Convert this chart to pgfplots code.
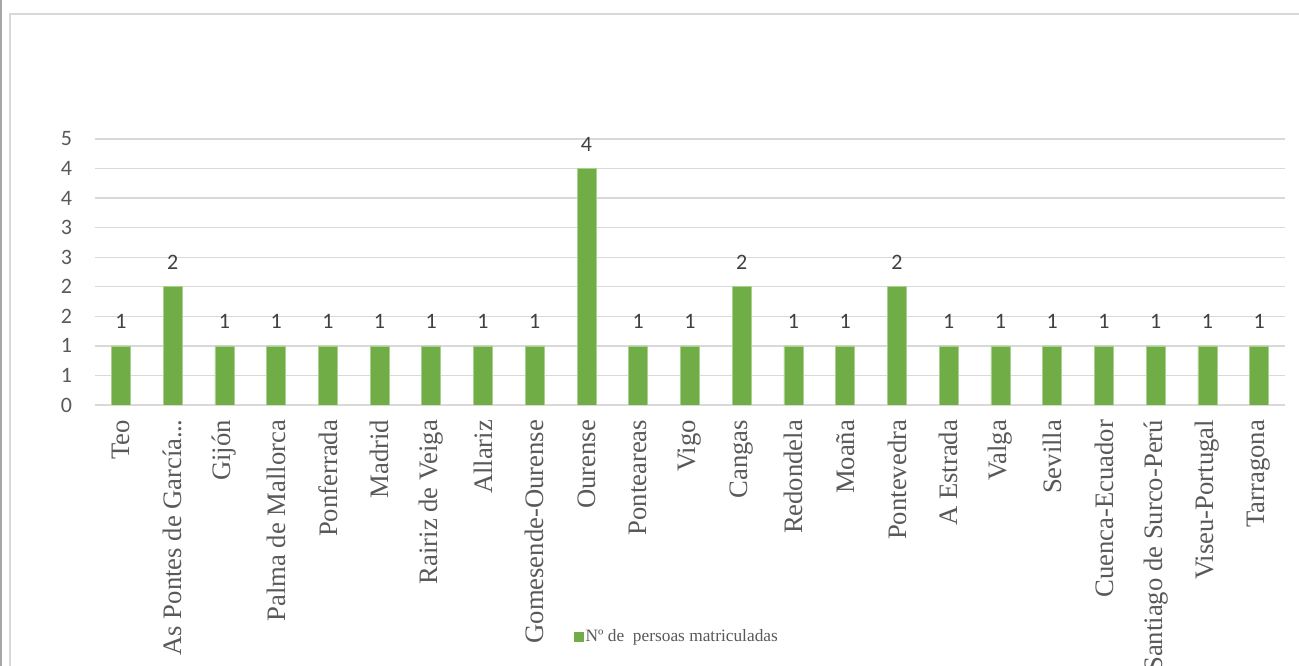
\documentclass[border=0pt]{standalone}
\usepackage{fontspec}
\setmainfont{Liberation Serif}
\newfontfamily\carlito{Carlito}
\usepackage{pgfplots}
\pgfplotsset{compat=1.18}

\definecolor{barGreen}{HTML}{70AD47}
\definecolor{barEdge}{HTML}{A9D18E}
\definecolor{gridGray}{HTML}{D9D9D9}
\definecolor{txtGray}{HTML}{595959}
\definecolor{lblGray}{HTML}{404040}
\definecolor{frameDark}{HTML}{A6A6A6}

\begin{document}
\begin{tikzpicture}
\useasboundingbox (-71.25pt,-195.75pt) rectangle (903pt,303.75pt);
\clip (-71.25pt,-195.75pt) rectangle (903pt,303.75pt);

% chart frame
\begin{scope}[shift={(-71.25pt,303.75pt)}, x=0.75pt, y=-0.75pt]
  \draw[frameDark, line width=1.5pt] (1,0) -- (1,670);
  \draw[gridGray, line width=1.5pt] (10,670) -- (10,14) -- (1305,14);
\end{scope}

\begin{axis}[
    scale only axis,
    width=892.5pt, height=199.5pt,
    ybar, bar width=14.25pt,
    xmin=-0.5, xmax=22.5, ymin=0, ymax=4.5,
    xtick=data,
    xticklabels={Teo, As Pontes de García.\kern-0.6pt.\kern-0.6pt., Gijón, Palma de Mallorca,
        Ponferrada, Madrid, Rairiz de Veiga, Allariz, Gomesende-Ourense,
        Ourense, Ponteareas, Vigo, Cangas, Redondela, Moaña, Pontevedra,
        A Estrada, Valga, Sevilla, Cuenca-Ecuador, Santiago de Surco-Perú,
        Viseu-Portugal, Tarragona},
    ytick={0,0.5,1,1.5,2,2.5,3,3.5,4,4.5},
    yticklabels={0,1,1,2,2,3,3,4,4,5},
    axis line style={draw=none},
    major tick length=0pt,
    ymajorgrids,
    grid style={gridGray, line width=1pt},
    /pgf/number format/assume math mode=true,
    xticklabel style={yshift=-11pt, rotate=90, anchor=east, inner sep=0pt,
        font=\fontsize{20}{22}\selectfont, text=txtGray},
    yticklabel style={anchor=east, inner sep=0pt, xshift=-17pt,
        font=\carlito\fontsize{16.5}{18}\selectfont, text=txtGray},
    nodes near coords,
    nodes near coords style={font=\carlito\fontsize{16.5}{18}\selectfont,
        text=lblGray, anchor=south, inner sep=0pt, yshift=12.5pt},
    legend style={at={(0.489,-0.872)}, anchor=center, draw=none, fill=none,
        font=\fontsize{13}{15}\selectfont, text=txtGray,
        nodes={inner sep=1.2pt}},
    legend image code/.code={\fill[barGreen] (0pt,-3.4pt) rectangle (6.8pt,3.4pt);},
]
\addplot[fill=barGreen, draw=barEdge, line width=0.5pt] coordinates {
    (0,1) (1,2) (2,1) (3,1) (4,1) (5,1) (6,1) (7,1) (8,1) (9,4)
    (10,1) (11,1) (12,2) (13,1) (14,1) (15,2) (16,1) (17,1) (18,1)
    (19,1) (20,1) (21,1) (22,1)
};
\addlegendentry{Nº de\ \ persoas matriculadas}
\end{axis}
\end{tikzpicture}
\end{document}
